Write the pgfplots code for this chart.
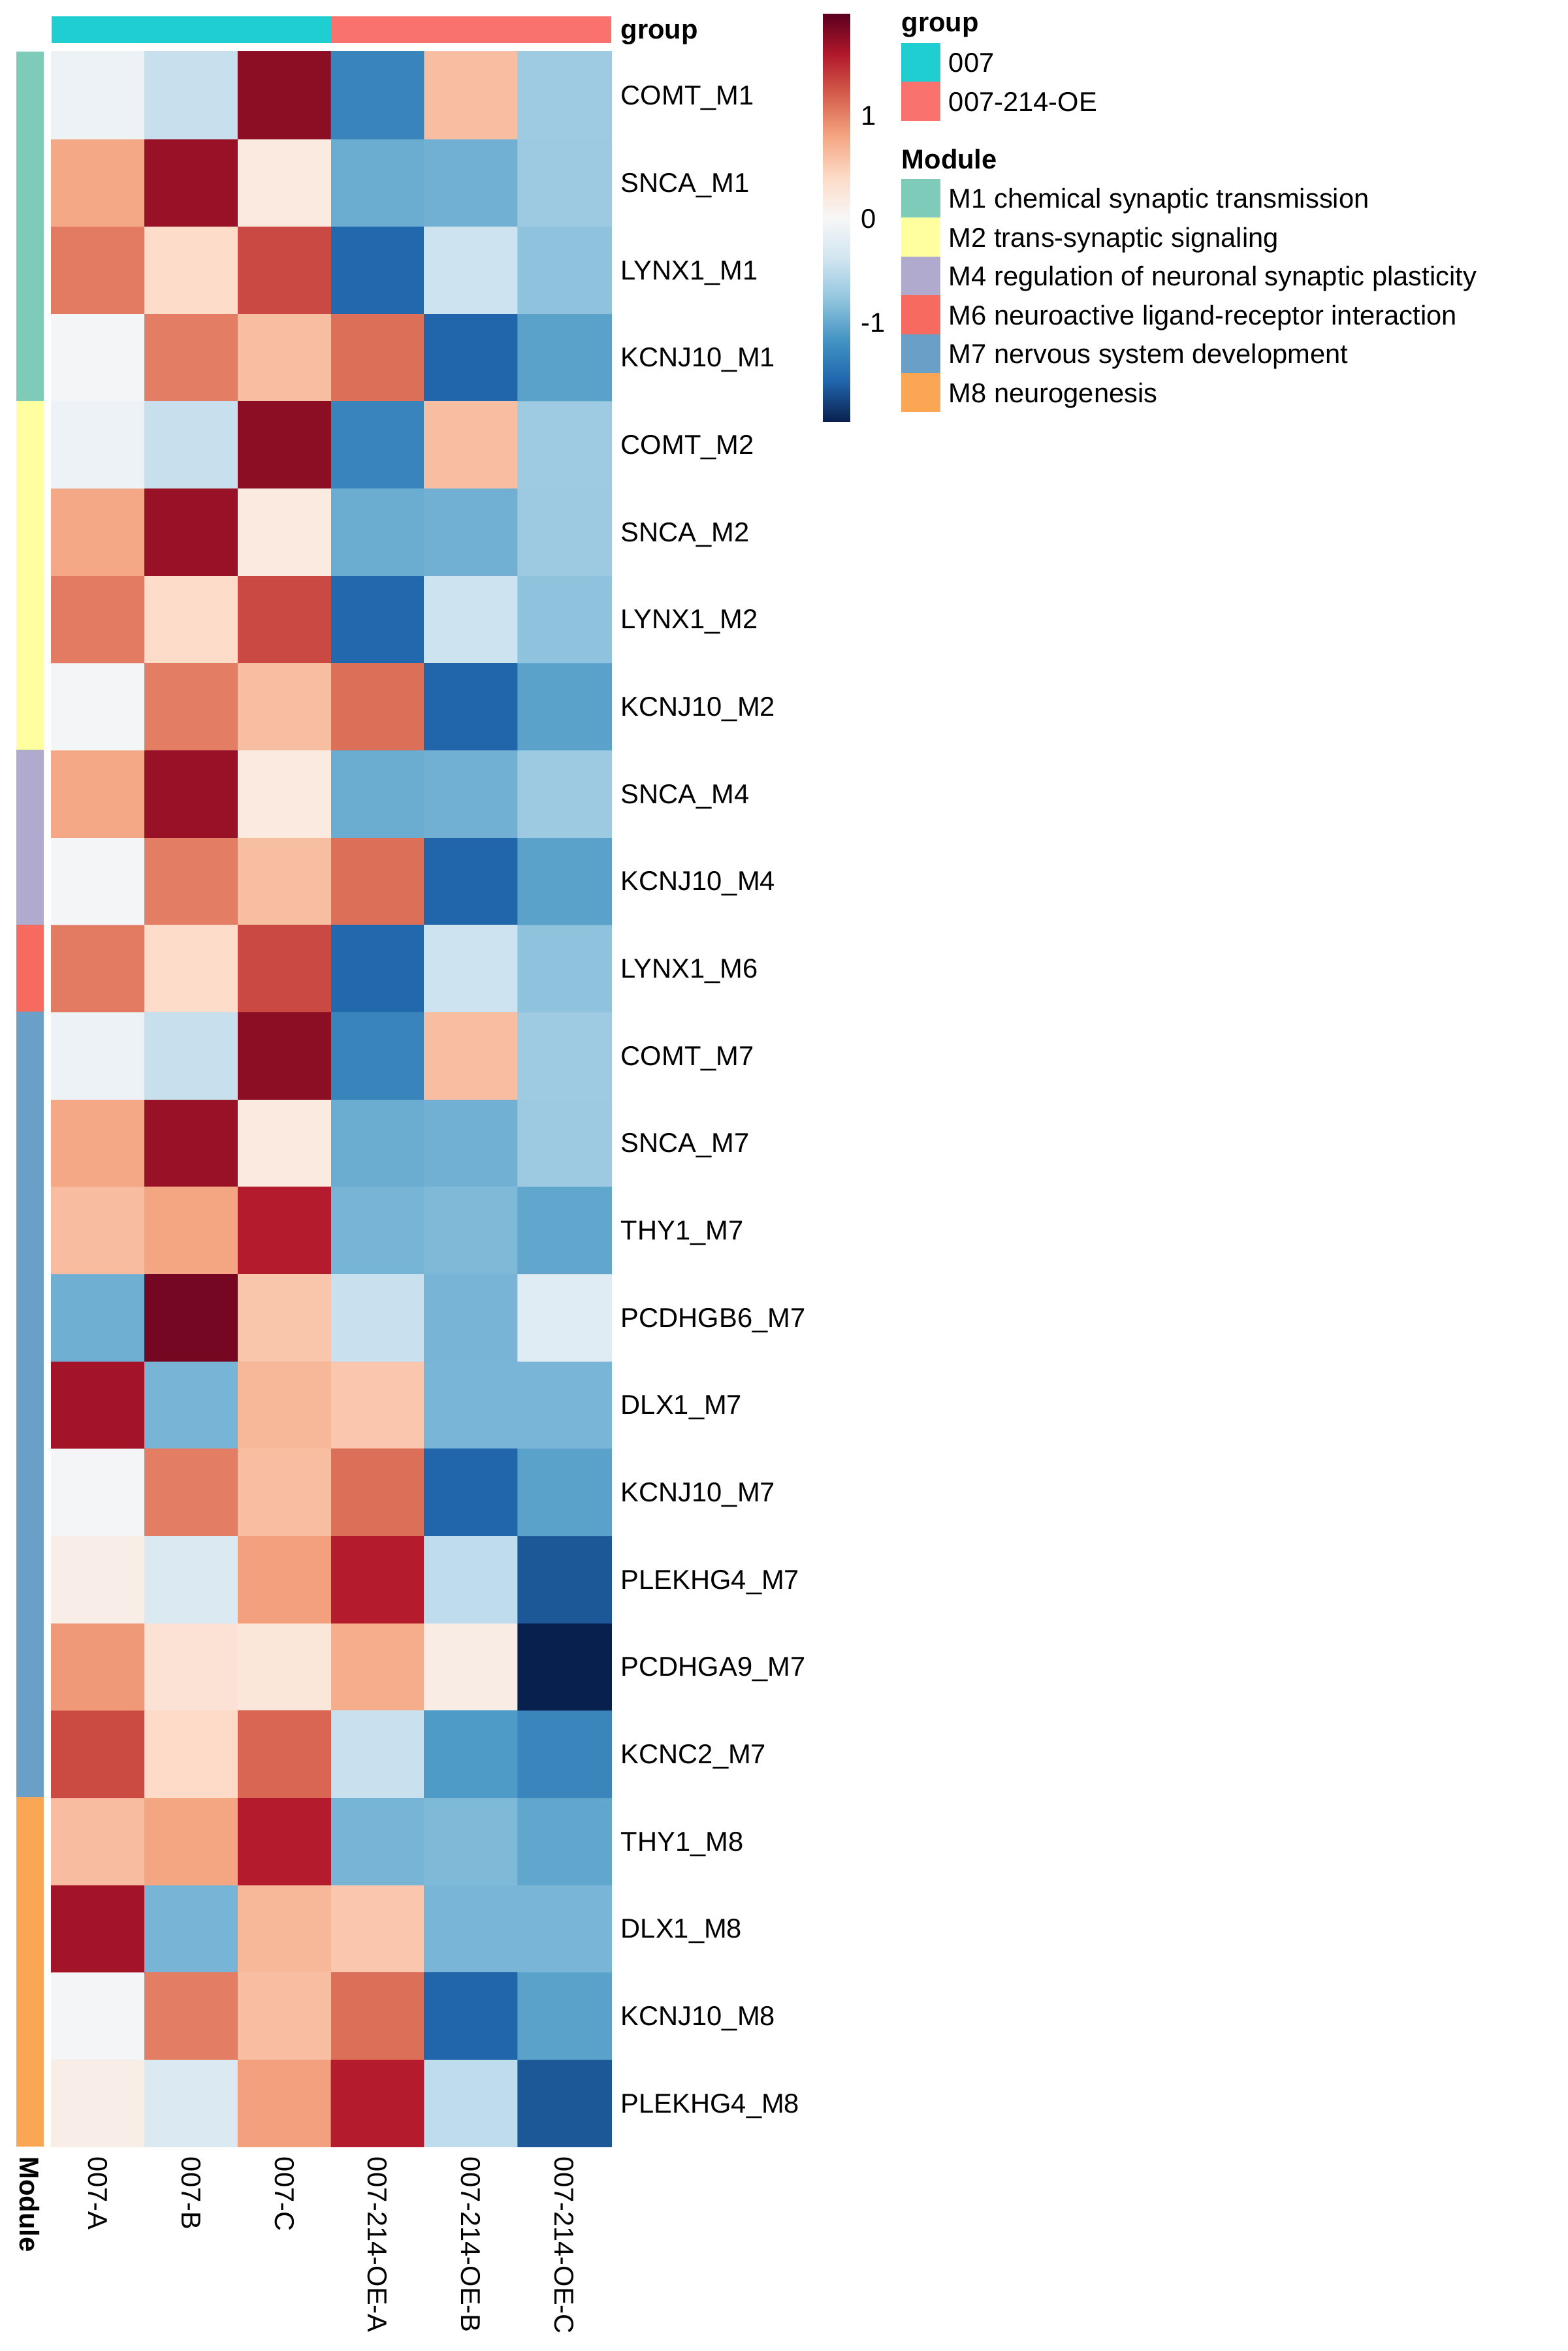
\documentclass[border=0pt]{standalone}
\usepackage{fontspec}
\setmainfont{Liberation Sans}
\usepackage{pgfplots}
\pgfplotsset{compat=1.18}
\usepackage{pgfplotstable}

\definecolor{grpA}{HTML}{1FCED1}
\definecolor{grpB}{HTML}{F9726E}
\definecolor{modA}{HTML}{7FCBBA}
\definecolor{modB}{HTML}{FFFFA0}
\definecolor{modC}{HTML}{B0AACF}
\definecolor{modD}{HTML}{F66A60}
\definecolor{modE}{HTML}{6AA0C8}
\definecolor{modF}{HTML}{FAA654}

\pgfplotsset{colormap={rdbu}{rgb255=(8,32,78) rgb255=(33,102,172) rgb255=(67,147,195) rgb255=(146,197,222) rgb255=(209,229,240) rgb255=(247,247,247) rgb255=(253,219,199) rgb255=(244,165,130) rgb255=(214,96,77) rgb255=(178,24,43) rgb255=(90,0,30)}}

% heatmap values: x = sample (0..5), y = row (0 = bottom row), c = scaled value
\pgfplotstableread{
x y c
0 0 0.14
1 0 -0.29
2 0 0.83
3 0 1.57
4 0 -0.50
5 0 -1.65
0 1 -0.03
1 1 1.02
2 1 0.62
3 1 1.11
4 1 -1.57
5 1 -1.05
0 2 1.65
1 2 -0.91
2 2 0.67
3 2 0.55
4 2 -0.90
5 2 -0.90
0 3 0.63
1 3 0.80
2 3 1.57
3 3 -0.91
4 3 -0.87
5 3 -1.02
0 4 1.31
1 4 0.40
2 4 1.16
3 4 -0.43
4 4 -1.11
5 4 -1.29
0 5 0.87
1 5 0.30
2 5 0.25
3 5 0.74
4 5 0.17
5 5 -1.96
0 6 0.14
1 6 -0.29
2 6 0.83
3 6 1.57
4 6 -0.50
5 6 -1.65
0 7 -0.03
1 7 1.02
2 7 0.62
3 7 1.11
4 7 -1.57
5 7 -1.05
0 8 1.65
1 8 -0.91
2 8 0.67
3 8 0.55
4 8 -0.90
5 8 -0.90
0 9 -0.95
1 9 1.86
2 9 0.56
3 9 -0.43
4 9 -0.91
5 9 -0.24
0 10 0.63
1 10 0.80
2 10 1.57
3 10 -0.91
4 10 -0.87
5 10 -1.02
0 11 0.78
1 11 1.70
2 11 0.20
3 11 -0.97
4 11 -0.94
5 11 -0.71
0 12 -0.10
1 12 -0.44
2 12 1.76
3 12 -1.30
4 12 0.62
5 12 -0.70
0 13 1.04
1 13 0.38
2 13 1.32
3 13 -1.55
4 13 -0.41
5 13 -0.79
0 14 -0.03
1 14 1.02
2 14 0.62
3 14 1.11
4 14 -1.57
5 14 -1.05
0 15 0.78
1 15 1.70
2 15 0.20
3 15 -0.97
4 15 -0.94
5 15 -0.71
0 16 -0.03
1 16 1.02
2 16 0.62
3 16 1.11
4 16 -1.57
5 16 -1.05
0 17 1.04
1 17 0.38
2 17 1.32
3 17 -1.55
4 17 -0.41
5 17 -0.79
0 18 0.78
1 18 1.70
2 18 0.20
3 18 -0.97
4 18 -0.94
5 18 -0.71
0 19 -0.10
1 19 -0.44
2 19 1.76
3 19 -1.30
4 19 0.62
5 19 -0.70
0 20 -0.03
1 20 1.02
2 20 0.62
3 20 1.11
4 20 -1.57
5 20 -1.05
0 21 1.04
1 21 0.38
2 21 1.32
3 21 -1.55
4 21 -0.41
5 21 -0.79
0 22 0.78
1 22 1.70
2 22 0.20
3 22 -0.97
4 22 -0.94
5 22 -0.71
0 23 -0.10
1 23 -0.44
2 23 1.76
3 23 -1.30
4 23 0.62
5 23 -0.70
}\heat

\begin{document}
\begin{tikzpicture}
\path[use as bounding box] (0,0) rectangle (576pt,864pt);

\begin{axis}[
  name=main,
  at={(18.96pt,75.12pt)}, anchor=south west,
  scale only axis, width=205.68pt, height=769.92pt,
  xmin=-0.5, xmax=5.5, ymin=-0.5, ymax=23.5,
  enlargelimits=false, clip=false,
  axis line style={draw=none},
  major tick length=0pt, tick style={draw=none},
  colormap name=rdbu, point meta min=-1.96, point meta max=1.98,
  xtick={0,1,2,3,4,5},
  xticklabels={007-A,007-B,007-C,007-214-OE-A,007-214-OE-B,007-214-OE-C},
  xticklabel style={inner sep=0pt, yshift=-3.6pt, xshift=-3.58pt, rotate=-90, anchor=base west},
  ytick={0,1,...,23},
  yticklabels={PLEKHG4\_M8,KCNJ10\_M8,DLX1\_M8,THY1\_M8,KCNC2\_M7,PCDHGA9\_M7,PLEKHG4\_M7,KCNJ10\_M7,DLX1\_M7,PCDHGB6\_M7,THY1\_M7,SNCA\_M7,COMT\_M7,LYNX1\_M6,KCNJ10\_M4,SNCA\_M4,KCNJ10\_M2,LYNX1\_M2,SNCA\_M2,COMT\_M2,KCNJ10\_M1,LYNX1\_M1,SNCA\_M1,COMT\_M1},
  yticklabel pos=right,
  yticklabel style={inner sep=0pt, anchor=base west, xshift=3.36pt, yshift=-3.58pt},
]
\addplot[matrix plot*, mesh/cols=6, point meta=explicit] table[x=x, y=y, meta=c] {\heat};
% group annotation bar
\addplot[draw=none, fill=grpA, mark=none] coordinates {(-0.5,23.5935) (2.5,23.5935) (2.5,23.904) (-0.5,23.904)};
\addplot[draw=none, fill=grpB, mark=none] coordinates {(2.5,23.5935) (5.5,23.5935) (5.5,23.904) (2.5,23.904)};
% module annotation bar
\addplot[draw=none, fill=modA, mark=none] coordinates {(-0.878,19.5) (-0.584,19.5) (-0.584,23.5) (-0.878,23.5)};
\addplot[draw=none, fill=modB, mark=none] coordinates {(-0.878,15.5) (-0.584,15.5) (-0.584,19.5) (-0.878,19.5)};
\addplot[draw=none, fill=modC, mark=none] coordinates {(-0.878,13.5) (-0.584,13.5) (-0.584,15.5) (-0.878,15.5)};
\addplot[draw=none, fill=modD, mark=none] coordinates {(-0.878,12.5) (-0.584,12.5) (-0.584,13.5) (-0.878,13.5)};
\addplot[draw=none, fill=modE, mark=none] coordinates {(-0.878,3.5) (-0.584,3.5) (-0.584,12.5) (-0.878,12.5)};
\addplot[draw=none, fill=modF, mark=none] coordinates {(-0.878,-0.5) (-0.584,-0.5) (-0.584,3.5) (-0.878,3.5)};
\end{axis}

% colour key
\begin{axis}[
  at={(302.4pt,708.96pt)}, anchor=south west,
  scale only axis, width=10.08pt, height=150pt,
  view={0}{90},
  xmin=0, xmax=1, ymin=-1.96, ymax=1.98,
  enlargelimits=false,
  axis line style={draw=none},
  major tick length=0pt, tick style={draw=none},
  xtick=\empty, ytick={-1,0,1}, yticklabels={-1,0,1},
  yticklabel pos=right,
  yticklabel style={inner sep=0pt, anchor=base west, xshift=3.84pt, yshift=-3.58pt},
  colormap name=rdbu, point meta min=-1.96, point meta max=1.98,
]
\addplot3[surf, shader=interp, mesh/cols=2, point meta=explicit] table[x=x, y=y, z=y, meta=y] {
x y
0 -1.96
1 -1.96
0 -1.566
1 -1.566
0 -1.172
1 -1.172
0 -0.778
1 -0.778
0 -0.384
1 -0.384
0 0.01
1 0.01
0 0.404
1 0.404
0 0.798
1 0.798
0 1.192
1 1.192
0 1.586
1 1.586
0 1.98
1 1.98
};
\end{axis}

% annotation titles
\node[anchor=base west, inner sep=0pt] at (228pt,849.6pt) {\bfseries group};
\node[anchor=base west, inner sep=0pt, rotate=-90] at (7.22pt,71.52pt) {\bfseries Module};

% legends
\node[anchor=base west, inner sep=0pt] at (331.2pt,852.4pt) {\bfseries group};
\fill[grpA] (331.2pt,833.88pt) rectangle (345.6pt,848.16pt);
\fill[grpB] (331.2pt,819.6pt) rectangle (345.6pt,833.88pt);
\node[anchor=base west, inner sep=0pt] at (348.48pt,837.44pt) {007};
\node[anchor=base west, inner sep=0pt] at (348.48pt,823.16pt) {007-214-OE};

\node[anchor=base west, inner sep=0pt] at (331.2pt,801.84pt) {\bfseries Module};
\fill[modA] (331.2pt,783.96pt) rectangle (345.6pt,798.24pt);
\fill[modB] (331.2pt,769.68pt) rectangle (345.6pt,783.96pt);
\fill[modC] (331.2pt,755.40pt) rectangle (345.6pt,769.68pt);
\fill[modD] (331.2pt,741.12pt) rectangle (345.6pt,755.40pt);
\fill[modE] (331.2pt,726.84pt) rectangle (345.6pt,741.12pt);
\fill[modF] (331.2pt,712.56pt) rectangle (345.6pt,726.84pt);
\node[anchor=base west, inner sep=0pt] at (348.48pt,787.52pt) {M1 chemical synaptic transmission};
\node[anchor=base west, inner sep=0pt] at (348.48pt,773.24pt) {M2 trans-synaptic signaling};
\node[anchor=base west, inner sep=0pt] at (348.48pt,758.96pt) {M4 regulation of neuronal synaptic plasticity};
\node[anchor=base west, inner sep=0pt] at (348.48pt,744.68pt) {M6 neuroactive ligand-receptor interaction};
\node[anchor=base west, inner sep=0pt] at (348.48pt,730.40pt) {M7 nervous system development};
\node[anchor=base west, inner sep=0pt] at (348.48pt,716.12pt) {M8 neurogenesis};
\end{tikzpicture}
\end{document}
